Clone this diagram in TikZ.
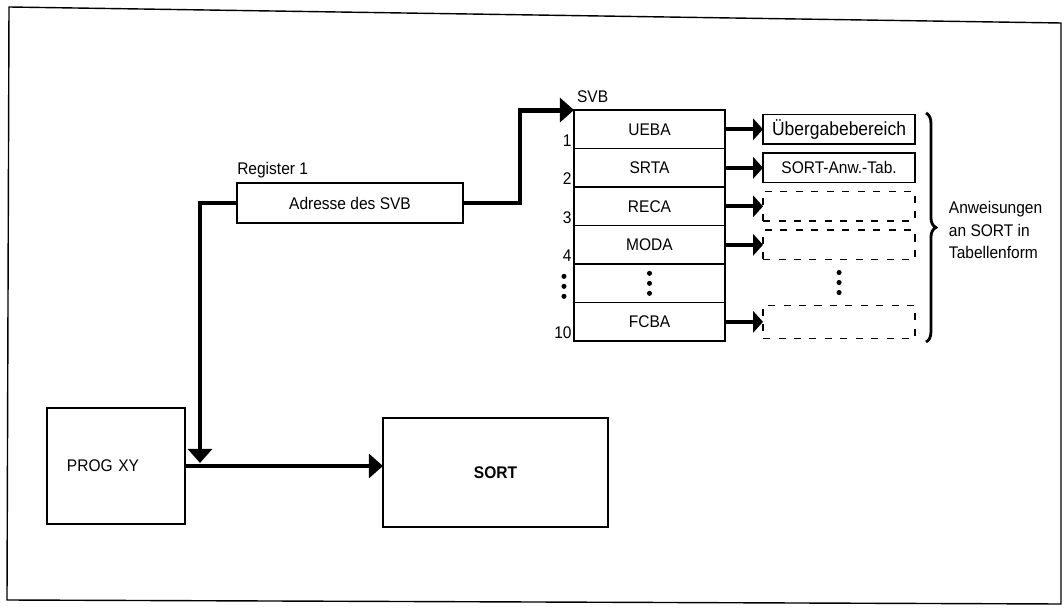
\documentclass[tikz,border=0pt]{standalone}
\usepackage{fontspec}
\setmainfont[FakeStretch=0.92]{Liberation Sans}
\usetikzlibrary{arrows.meta,positioning,calc,decorations.pathreplacing}

\begin{document}
\begin{tikzpicture}[x=0.025cm, y=-0.025cm,
  every node/.style={font=\fontsize{12}{16}\selectfont},
  plainbox/.style={rectangle, draw, line width=0.9pt, inner sep=0pt, outer sep=0pt},
  rowbox/.style={plainbox, minimum width=3.775cm, minimum height=0.9625cm},
  tabbox/.style={plainbox, minimum width=3.8cm, minimum height=0.74cm},
  dashbox/.style={tabbox, dash pattern=on 5pt off 6pt},
  numlbl/.style={inner sep=1.5pt, anchor=south east},
  bigarr/.style={-{Triangle[length=10pt, width=17pt]}, line width=3.5pt},
  rowarr/.style={-{Triangle[length=7pt, width=15pt]}, line width=3pt}
]
  \useasboundingbox (0,0) rectangle (1064,615);
  % outer frame
  \draw[line width=1pt] (9,7) -- (1061,23) -- (1061,604) -- (7,600) -- cycle;

  % register and SVB table
  \node[plainbox, minimum width=5.65cm, minimum height=1.0cm] (reg) at (350,203) {Adresse des SVB};
  \node[anchor=base west, inner sep=0pt] (reglbl) at ([yshift=6pt]reg.north west) {Register 1};

  \node[rowbox] (r1) at (649.5,129.3) {UEBA};
  \node[rowbox, below=0pt of r1] (r2) {SRTA};
  \node[rowbox, below=0pt of r2] (r3) {RECA};
  \node[rowbox, below=0pt of r3] (r4) {MODA};
  \node[rowbox, below=0pt of r4] (r5) {};
  \node[rowbox, below=0pt of r5] (r6) {FCBA};
  \node[anchor=south west, inner sep=0pt] (svb) at ([xshift=2pt, yshift=5pt]r1.north west) {SVB};

  \node[numlbl] (n1) at (r1.south west) {1};
  \node[numlbl] (n2) at (r2.south west) {2};
  \node[numlbl] (n3) at (r3.south west) {3};
  \node[numlbl] (n4) at (r4.south west) {4};
  \node[numlbl] (n10) at (r6.south west) {10};
  \foreach \dy in {-10,0,10} {
    \fill ([shift={(0,\dy)}]r5.center) circle[radius=1.8pt];
    \fill ([shift={(-10,\dy+3)}]r5.west) circle[radius=1.8pt];
  }

  % tables handed over to SORT
  \node[tabbox, right=0.95cm of r1, font=\fontsize{13.5}{15}\selectfont] (b1) {Übergabebereich};
  \node[tabbox, right=0.95cm of r2] (b2) {SORT-Anw.-Tab.};
  \node[dashbox, right=0.95cm of r3] (d3) {};
  \node[dashbox, right=0.95cm of r4] (d4) {};
  \node[dashbox, right=0.95cm of r6, minimum height=0.82cm] (d10) {};
  \coordinate (dmid) at ($(d4.south)!0.5!(d10.north)$);
  \foreach \dy in {-10,0,10}
    \fill ([shift={(0,\dy)}]dmid) circle[radius=1.8pt];

  \draw[rowarr] (r1.east) -- (b1.west);
  \draw[rowarr] (r2.east) -- (b2.west);
  \draw[rowarr] (r3.east) -- (d3.west);
  \draw[rowarr] (r4.east) -- (d4.west);
  \draw[rowarr] (r6.east) -- (d10.west);

  \draw[line width=2pt, decorate, decoration={brace, amplitude=7pt}] (926,113) -- (926,342);
  \node[anchor=west, align=left] (anw) at (944,230) {Anweisungen\\an SORT in\\Tabellenform};

  % program and SORT
  \node[plainbox, minimum width=3.45cm, minimum height=2.9cm, text width=2.45cm, inner xsep=0.5cm, align=left] (prog) at (116,466) {PROG XY};
  \node[plainbox, minimum width=5.625cm, minimum height=2.725cm, font=\fontsize{12}{14}\selectfont\bfseries] (sort) at (495.5,472.5) {SORT};
  \coordinate (join) at (200,463);

  \draw[bigarr] (prog.east) -- (prog.east -| sort.west);
  \draw[bigarr] (reg.west) -| (join);
  \draw[bigarr] (reg.east) -- ++(57,0) |- (r1.north west);
\end{tikzpicture}
\end{document}
